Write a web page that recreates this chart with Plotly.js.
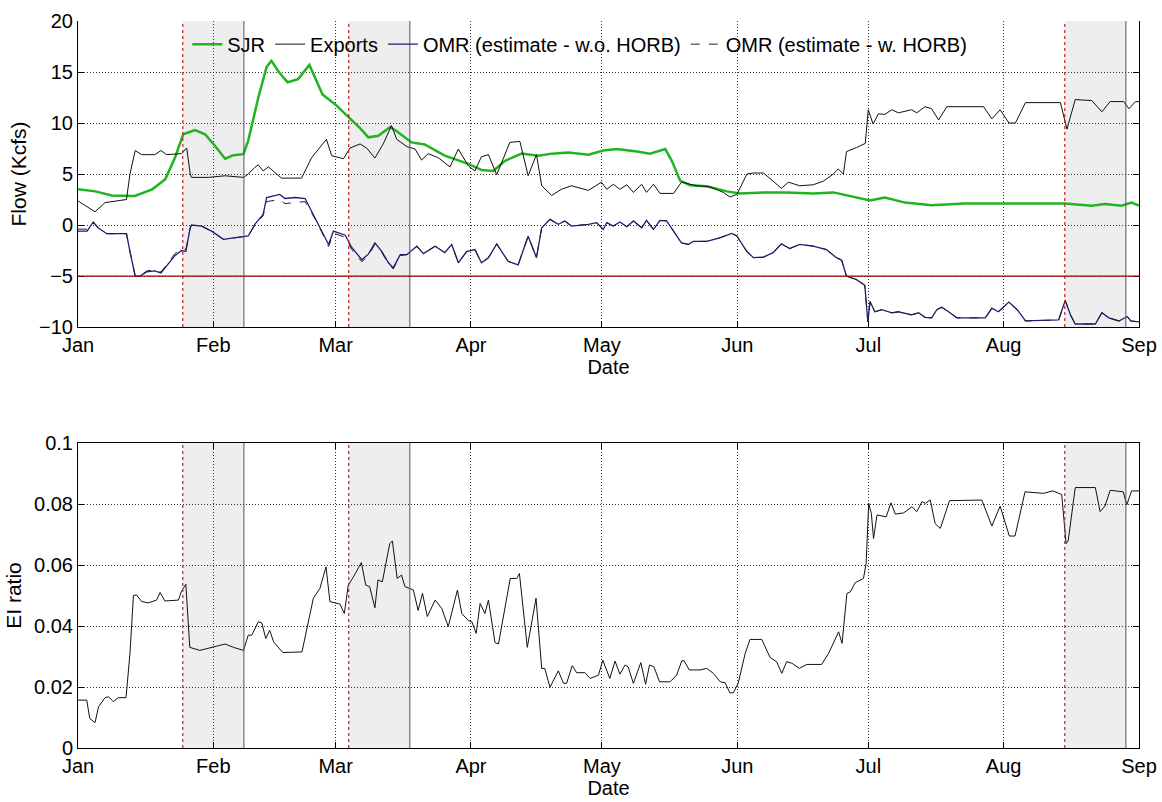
<!DOCTYPE html>
<html>
<head>
<meta charset="utf-8">
<script src="https://cdn.plot.ly/plotly-3.0.1.min.js"></script>
<style>html,body{margin:0;padding:0;background:#fff;}#chart{width:1162px;height:802px;}</style>
</head>
<body>
<div id="chart"></div>
<script>
// ---- data (day offsets from Jan 1) ----
const sjrDay = [0,4,7.7,13,17,20,22.2,24.1,26.8,29.1,31.4,33.7,35.6,37.9,39,41.3,43.2,44.3,46,48,50.4,53,56,59,61.9,64.6,66.5,68.8,71.5,73,76.4,79.4,84,89.4,92.4,95.1,97.8,101.6,105.4,108.5,112.3,116.9,120.3,123.4,128,131,134.5,136,137.9,140.2,144,148.6,151.6,157.7,162.3,168.4,173,177.6,181.4,184.8,189.4,195.5,203,212.3,218.4,226,232.2,235.2,239,241.3,243];
const sjrFlow = [3.5,3.3,2.9,2.85,3.5,4.5,6.6,8.9,9.3,8.9,7.75,6.5,6.85,6.95,8.3,12.5,15.5,16.1,15.0,14.0,14.3,15.7,12.8,11.8,10.6,9.5,8.6,8.75,9.6,9.2,8.1,7.9,6.8,6.0,5.4,5.3,6.3,7.0,6.8,7.0,7.1,6.9,7.3,7.45,7.2,7.0,7.45,6.3,4.35,3.9,3.8,3.3,3.1,3.2,3.2,3.1,3.2,2.8,2.4,2.7,2.2,1.95,2.1,2.1,2.1,2.1,1.9,2.05,1.9,2.2,1.9];

const expDay = [0,2.4,3.9,6.2,9.2,11.1,11.9,13.1,14.6,17.6,19,20.3,23.7,24.9,25.7,26,29.8,33.7,37.9,39,40.5,41.3,42.4,43.6,46.6,51.2,53.5,56.9,58.1,60.8,62.3,64.6,66.1,68,69.9,71.8,73,75.3,77.2,78.7,80.2,82.5,85.2,87.1,89.4,90.9,92.4,94,95.9,98.9,101.2,103.1,105,106.2,108.5,110.7,113,116.9,119.9,121.1,122.6,124.1,125.7,127.2,129.1,130.2,131.8,133.3,136.4,138.2,141.7,144.7,147.8,149.3,150.9,153.2,154.7,157,159.2,161.1,162.7,165.3,168.4,170.7,173,174.1,175.3,176,178.3,180.3,181,182.1,183.3,184.8,186.4,187.9,190.9,192.1,194,195.5,197.1,199,207.4,209.3,211.2,213.2,214.7,217,225,226.5,228.4,232.2,234.5,236.4,239.5,240.7,242.2,243];
const expFlow = [2.36,1.7,1.3,2.2,2.4,2.5,5.0,7.3,6.9,6.9,7.3,6.9,7.0,7.55,5.0,4.67,4.67,4.83,4.67,5.0,5.65,5.9,5.3,5.7,4.6,4.6,6.6,8.4,6.8,6.5,7.55,7.95,7.55,6.57,7.95,9.75,8.4,7.7,7.45,6.37,7.0,6.6,5.7,7.45,5.8,5.3,6.7,6.9,4.93,8.1,8.2,4.83,6.9,3.85,2.9,3.5,3.85,3.4,4.2,3.5,4.0,3.5,3.95,3.2,4.0,3.2,4.0,3.1,3.1,4.2,3.85,3.75,3.2,2.75,3.0,5.0,5.1,5.1,4.3,3.6,4.2,3.85,3.95,4.3,5.0,5.5,5.0,7.2,7.6,8.0,11.3,9.9,10.9,10.85,11.3,11.0,11.3,11.0,11.6,11.4,10.3,11.6,11.6,10.4,11.3,10.0,10.0,12.0,12.0,9.4,12.3,12.2,11.1,12.1,12.1,11.4,12.1,12.1];

const omrDay = [0,2.1,3.5,4.6,6.6,11.1,11.9,13.1,14.2,15.7,17.6,19,20.3,22.2,23.7,24.7,25.7,26,28.3,30.6,33.3,35.6,37.9,39,40.5,42.4,43.2,45,46.2,47.4,49.8,52,54.7,57.4,58.5,61.2,62.7,65,66.5,68,69.6,71.1,72.2,73.8,75.3,77.6,79.1,81.8,84,85.6,87.1,89,90.9,92.4,94,95.9,98.5,100.8,103.1,105,106.2,108.1,110,111.5,113,116.9,118.8,120.3,121.1,122.6,124.1,125.7,127.2,129.1,130.2,131.8,133.3,134.8,136.4,138.2,139.8,140.9,144,147,149.7,150.9,153.2,154.7,157,159.2,161.1,163,165.3,168.4,171.4,173.7,174.9,176,178.3,180.2,180.9,181.4,182.5,184.1,186.4,187.9,190.9,192.5,194,195.5,196.7,197.8,199.4,201.3,207.8,209.3,210.8,213.2,215.1,217,224.6,226.1,227.3,228.4,233,234.5,236.1,238.4,240.3,241.1,243];
const omrNoHorb = [-0.6,-0.6,0.3,-0.26,-0.85,-0.85,-2.6,-5.0,-5.0,-4.6,-4.5,-4.7,-4.0,-3.0,-2.5,-2.6,-0.26,0.0,-0.1,-0.6,-1.4,-1.25,-1.07,-1.07,0.07,1.05,2.7,2.86,3.0,2.6,2.7,2.6,0.4,-1.9,-0.6,-1.0,-2.2,-3.4,-2.85,-1.75,-2.6,-3.7,-4.2,-2.9,-2.9,-2.07,-2.8,-2.07,-2.7,-1.9,-3.7,-2.6,-2.4,-3.7,-3.2,-1.85,-3.55,-3.9,-1.1,-3.2,-0.26,0.56,0.07,0.4,-0.1,0.07,0.23,-0.43,0.23,-0.1,0.3,-0.17,0.4,-0.26,0.46,-0.43,0.46,0.4,-0.6,-1.75,-1.9,-1.6,-1.6,-1.25,-0.82,-1.07,-2.6,-3.2,-3.15,-2.7,-1.85,-2.3,-1.9,-2.07,-2.4,-3.2,-3.45,-5.0,-5.35,-5.9,-9.5,-7.5,-8.5,-8.3,-8.6,-8.5,-8.8,-8.6,-9.05,-9.1,-8.3,-8.06,-8.5,-9.1,-9.1,-8.15,-8.5,-7.55,-8.3,-9.4,-9.3,-7.4,-8.8,-9.7,-9.7,-8.6,-9.1,-9.4,-8.96,-9.4,-9.5];
const omrHorb = [-0.4,-0.4,0.3,-0.3,-0.85,-0.85,-2.6,-5.0,-5.0,-4.5,-4.4,-4.6,-3.9,-2.8,-2.3,-2.4,-0.3,0.0,-0.1,-0.6,-1.4,-1.25,-1.07,-1.07,0.0,0.9,2.3,2.4,2.5,2.1,2.2,2.3,0.3,-2.1,-0.8,-1.2,-2.4,-3.6,-3.0,-1.9,-2.7,-3.8,-4.3,-3.0,-2.9,-2.1,-2.8,-2.07,-2.7,-1.9,-3.7,-2.6,-2.4,-3.7,-3.2,-1.85,-3.55,-3.9,-1.1,-3.2,-0.26,0.56,0.07,0.4,-0.1,0.07,0.23,-0.43,0.23,-0.1,0.3,-0.17,0.4,-0.26,0.46,-0.43,0.46,0.4,-0.6,-1.75,-1.9,-1.6,-1.6,-1.25,-0.82,-1.07,-2.6,-3.2,-3.15,-2.7,-1.85,-2.3,-1.9,-2.07,-2.4,-3.2,-3.45,-5.0,-5.35,-5.9,-9.5,-7.5,-8.5,-8.3,-8.6,-8.5,-8.8,-8.6,-9.05,-9.1,-8.3,-8.06,-8.5,-9.1,-9.1,-8.15,-8.5,-7.55,-8.3,-9.4,-9.3,-7.4,-8.8,-9.7,-9.7,-8.6,-9.1,-9.4,-8.96,-9.4,-9.5];

const eiDay = [0,2,2.7,3.9,4.7,6.2,7,8.1,9.2,11,11.9,12.7,13.4,14.6,16.1,18,18.8,19.9,23,23.7,24.7,25.6,27.9,31,33.7,35.6,37.9,39,39.8,41.3,42.1,43,43.9,44.8,45.9,46.9,51.3,53.9,55.4,56.8,57.7,60,61,61.9,63,64.9,65.9,66.8,68,68.7,69.7,71.4,72,73.1,74.1,74.9,76,76.8,77.9,78.9,80,81.8,83.3,84.8,86.9,87.9,89.4,90.2,91.2,92.1,93.2,94,95.5,96.3,99,100.5,101.1,102.9,104.9,106.2,106.9,108.1,110,111.2,111.9,113.2,114.2,116.1,117.3,119.2,120.2,121.8,123,124.1,125.3,126,127.2,128.9,130,130.9,131.9,133.2,135.6,137.1,138.3,138.8,140,142.5,144,145.5,147.1,148.2,149.3,150.1,151.2,152.8,153.9,156.6,158.5,160,161.2,162.3,163.5,165.2,166.9,170.3,171.9,174.2,175,176.1,176.9,178,179.9,180.5,181.1,181.7,182.2,183,185.1,186.2,187.2,189.1,191,192.1,193.3,194,195.2,196.3,197.5,199.6,207,209.3,211.2,213.3,214.6,216.9,221.1,223.3,225.3,226.3,226.8,228.4,233,234.1,235.2,236.4,239.4,240.2,241.3,243];
const eiRatio = [0.0157,0.0157,0.0097,0.0083,0.0135,0.0165,0.0168,0.0152,0.0165,0.0165,0.031,0.050,0.0502,0.048,0.0476,0.0485,0.051,0.0482,0.0485,0.0514,0.0537,0.033,0.032,0.033,0.0341,0.033,0.032,0.037,0.037,0.0414,0.041,0.0359,0.0386,0.0348,0.033,0.0313,0.0315,0.0491,0.0523,0.0594,0.048,0.0472,0.0441,0.0534,0.0559,0.0608,0.0534,0.0529,0.046,0.0551,0.0545,0.067,0.0679,0.0556,0.0567,0.0529,0.0523,0.0518,0.0451,0.0507,0.0431,0.0485,0.0458,0.0398,0.0518,0.0441,0.0418,0.0414,0.0376,0.0474,0.0441,0.0485,0.0346,0.0341,0.0556,0.0556,0.0572,0.033,0.0491,0.0261,0.0261,0.0199,0.0253,0.0212,0.0212,0.027,0.0247,0.0247,0.0228,0.0239,0.0288,0.0228,0.0285,0.0242,0.0272,0.0266,0.0212,0.028,0.0209,0.0272,0.0266,0.0217,0.0217,0.0239,0.0286,0.0286,0.0256,0.0256,0.0261,0.0245,0.0217,0.0214,0.0181,0.0181,0.0212,0.031,0.0356,0.0356,0.0297,0.0283,0.0245,0.0283,0.0278,0.0261,0.0274,0.0274,0.031,0.0381,0.0343,0.0507,0.0512,0.0542,0.0556,0.0605,0.0802,0.0769,0.0687,0.0764,0.0758,0.0804,0.0767,0.0771,0.0791,0.0775,0.0808,0.0802,0.0813,0.0736,0.072,0.0811,0.0813,0.0728,0.0793,0.0695,0.0695,0.084,0.0835,0.0843,0.0831,0.067,0.0681,0.0854,0.0854,0.0775,0.0793,0.0845,0.084,0.0797,0.0843,0.0843];

const periodStart = ['2009-01-25','2009-03-04','2009-08-15'];
const periodEnd   = ['2009-02-08','2009-03-18','2009-08-29'];
const omrLimit = -5;
const monthTicks = ['2009-01-01','2009-02-01','2009-03-01','2009-04-01','2009-05-01','2009-06-01','2009-07-01','2009-08-01','2009-09-01'];
const monthLabels = ['Jan','Feb','Mar','Apr','May','Jun','Jul','Aug','Sep'];

// ---- helpers ----
const base = Date.UTC(2009,0,1);
function toDate(d){ return new Date(base + d*86400000).toISOString().slice(0,19).replace('T',' '); }
const dates = arr => arr.map(toDate);

const FONT = 'Liberation Sans, Arial, Helvetica, sans-serif';

const traces = [
  {x: dates(sjrDay), y: sjrFlow, name: 'SJR', type: 'scatter', mode: 'lines',
   line: {color: '#1fb51f', width: 2.5}, xaxis: 'x', yaxis: 'y'},
  {x: dates(expDay), y: expFlow, name: 'Exports', type: 'scatter', mode: 'lines',
   line: {color: '#111111', width: 1}, xaxis: 'x', yaxis: 'y'},
  {x: dates(omrDay), y: omrNoHorb, name: 'OMR (estimate - w.o. HORB)', type: 'scatter', mode: 'lines',
   line: {color: '#1c1c7a', width: 1.3}, xaxis: 'x', yaxis: 'y'},
  {x: dates(omrDay), y: omrHorb, name: 'OMR (estimate - w. HORB)', type: 'scatter', mode: 'lines',
   line: {color: '#202030', width: 1, dash: 'dash'}, xaxis: 'x', yaxis: 'y'},
  {x: dates(eiDay), y: eiRatio, name: 'EI ratio', type: 'scatter', mode: 'lines',
   line: {color: '#111111', width: 1}, xaxis: 'x2', yaxis: 'y2', showlegend: false}
];

const shapes = [];
[['x','y'],['x2','y2']].forEach(([xa,ya]) => {
  periodStart.forEach((s,i) => {
    shapes.push({type:'rect', xref:xa, yref:ya+' domain', x0:s, x1:periodEnd[i], y0:0, y1:1,
      fillcolor:'#eeeeee', line:{width:0}, layer:'below'});
    shapes.push({type:'line', xref:xa, yref:ya+' domain', x0:s, x1:s, y0:0, y1:1,
      line:{color:'#b02828', width:1.2, dash:'dot'}, layer:'above'});
    shapes.push({type:'line', xref:xa, yref:ya+' domain', x0:periodEnd[i], x1:periodEnd[i], y0:0, y1:1,
      line:{color:'#555555', width:1}, layer:'above'});
  });
});
shapes.push({type:'line', xref:'x domain', yref:'y', x0:0, x1:1, y0:omrLimit, y1:omrLimit,
  line:{color:'#a00000', width:1.3}, layer:'above'});

const TICKSIZE = 20;
const gridStyle = {showgrid:true, gridcolor:'#333', griddash:'1px,2px', gridwidth:1,
  showline:true, linecolor:'#000', linewidth:1, ticks:'inside', ticklen:6, tickcolor:'#000',
  zeroline:false, tickfont:{family:FONT, size:TICKSIZE, color:'#000'}};

const xCommon = Object.assign({}, gridStyle, {type:'date', range:['2009-01-01','2009-09-01'],
  tickvals: monthTicks, ticktext: monthLabels, automargin:false});

const layout = {
  width:1162, height:802,
  margin:{l:78, r:23, t:21, b:54},
  paper_bgcolor:'#fff', plot_bgcolor:'#fff',
  font:{family:FONT, size:20, color:'#000'},
  showlegend:true,
  legend:{orientation:'h', x:0.103, y:0.995, xanchor:'left', yanchor:'top',
    bgcolor:'rgba(0,0,0,0)', font:{family:FONT, size:20, color:'#000'}, tracegroupgap:0, itemwidth:30},
  xaxis: Object.assign({}, xCommon, {anchor:'y', domain:[0,1], mirror:false,
    title:{text:'Date', standoff:4, font:{family:FONT, size:20}}}),
  yaxis: Object.assign({}, gridStyle, {anchor:'x', domain:[0.579,1], range:[-10,20], dtick:5, tick0:0,
    mirror:'ticks', automargin:false,
    title:{text:'Flow (Kcfs)', standoff:6, font:{family:FONT, size:21}}}),
  xaxis2: Object.assign({}, xCommon, {anchor:'y2', domain:[0,1], mirror:'ticks',
    title:{text:'Date', standoff:4, font:{family:FONT, size:20}}}),
  yaxis2: Object.assign({}, gridStyle, {anchor:'x2', domain:[0,0.4195], range:[0,0.1], dtick:0.02, tick0:0,
    mirror:'ticks', automargin:false,
    title:{text:'EI ratio', standoff:6, font:{family:FONT, size:21}}}),
  shapes: shapes
};

Plotly.newPlot('chart', traces, layout, {displayModeBar:false, staticPlot:true});
</script>
</body>
</html>
